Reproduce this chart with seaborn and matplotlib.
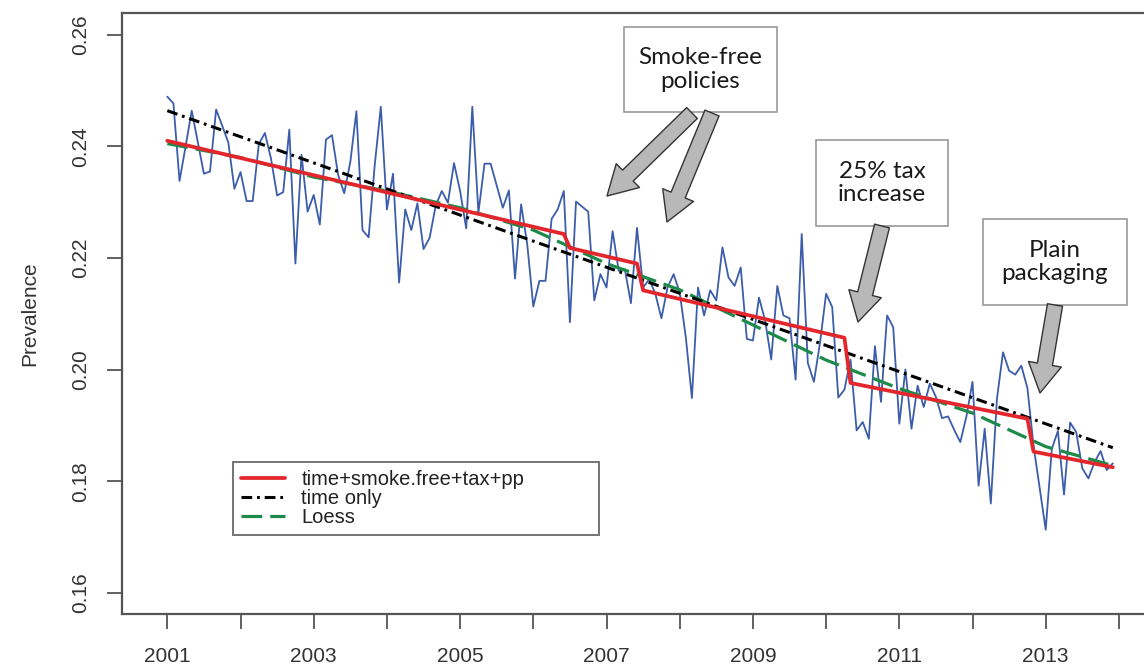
import numpy as np
import pandas as pd
import matplotlib
matplotlib.use("Agg")
import matplotlib.pyplot as plt
import seaborn as sns
from matplotlib.patches import Rectangle, FancyArrowPatch

# ---------------- data ----------------
start_year = 2001
prevalence = [
    0.2489, 0.2477, 0.2338, 0.2400, 0.2464, 0.2407, 0.2351, 0.2355, 0.2466, 0.2437, 0.2407, 0.2324,
    0.2354, 0.2302, 0.2302, 0.2404, 0.2424, 0.2378, 0.2312, 0.2318, 0.2430, 0.2190, 0.2385, 0.2283,
    0.2313, 0.2260, 0.2412, 0.2420, 0.2349, 0.2316, 0.2372, 0.2463, 0.2250, 0.2237, 0.2366, 0.2471,
    0.2287, 0.2351, 0.2156, 0.2287, 0.2250, 0.2298, 0.2216, 0.2236, 0.2294, 0.2320, 0.2299, 0.2370,
    0.2320, 0.2253, 0.2471, 0.2281, 0.2369, 0.2369, 0.2330, 0.2290, 0.2321, 0.2163, 0.2296, 0.2225,
    0.2113, 0.2159, 0.2159, 0.2270, 0.2287, 0.2320, 0.2085, 0.2301, 0.2292, 0.2283, 0.2124, 0.2171,
    0.2147, 0.2248, 0.2177, 0.2180, 0.2119, 0.2254, 0.2147, 0.2162, 0.2136, 0.2092, 0.2147, 0.2171,
    0.2138, 0.2058, 0.1949, 0.2147, 0.2097, 0.2142, 0.2124, 0.2219, 0.2165, 0.2150, 0.2183, 0.2055,
    0.2052, 0.2129, 0.2088, 0.2018, 0.2150, 0.2097, 0.2092, 0.1982, 0.2243, 0.2012, 0.1978, 0.2048,
    0.2136, 0.2112, 0.1950, 0.1964, 0.2018, 0.1891, 0.1906, 0.1876, 0.2042, 0.1942, 0.2097, 0.2076,
    0.1903, 0.2000, 0.1894, 0.1971, 0.1933, 0.1975, 0.1951, 0.1913, 0.1916, 0.1892, 0.1870, 0.1916,
    0.1978, 0.1792, 0.1894, 0.1760, 0.1947, 0.2031, 0.1998, 0.1991, 0.2007, 0.1967, 0.1864, 0.1788,
    0.1713, 0.1858, 0.1890, 0.1776, 0.1905, 0.1888, 0.1823, 0.1805, 0.1834, 0.1854, 0.1820, 0.1832,
]
months = np.arange(len(prevalence))

# interrupted time-series model (time + smoke.free + tax + pp), knots of the fitted line
model_months = [0, 65, 66, 77, 78, 111, 112, 141, 142, 155]
model_vals = [0.2410, 0.2243, 0.2218, 0.2190, 0.2142, 0.2057, 0.1976, 0.1912, 0.1853, 0.1825]

# time-only linear trend (end points)
trend_months = [0, 155]
trend_vals = [0.2464, 0.1860]

# loess smooth
loess_months = [0, 12, 24, 36, 48, 60, 72, 84, 96, 108, 120, 132, 144, 155]
loess_vals = [0.2405, 0.2380, 0.2345, 0.2320, 0.2290, 0.2250, 0.2190, 0.2143, 0.2080, 0.2017,
              0.1966, 0.1922, 0.1862, 0.1828]

legend_labels = ["time+smoke.free+tax+pp", "time only", "Loess"]
year_ticks = list(range(2001, 2015))
ylabel = "Prevalence"

df_obs = pd.DataFrame({"year": start_year + months / 12, "prev": prevalence})
df_model = pd.DataFrame({"year": start_year + np.array(model_months) / 12, "prev": model_vals})
df_trend = pd.DataFrame({"year": start_year + np.array(trend_months) / 12, "prev": trend_vals})
df_loess = pd.DataFrame({"year": start_year + np.array(loess_months) / 12, "prev": loess_vals})

# ---------------- style ----------------
sns.set_theme(style="white")
plt.rcParams["font.family"] = ["Liberation Sans", "DejaVu Sans"]

W, H = 1144, 666
fig = plt.figure(figsize=(W / 100, H / 100), dpi=100)
ax = fig.add_axes([122 / W, (H - 614) / H, (W - 122) / W, 601 / H])

blue = "#3C5DAA"
red = "#E3262B"
green = "#1E8A4A"

sns.lineplot(data=df_obs, x="year", y="prev", ax=ax, color=blue, lw=1.3, zorder=2)
l_loess = sns.lineplot(data=df_loess, x="year", y="prev", ax=ax, color=green, lw=2.3,
                       zorder=3).lines[-1]
l_loess.set_dashes((6.5, 2.5))
l_trend = sns.lineplot(data=df_trend, x="year", y="prev", ax=ax, color="black", lw=2.2,
                       zorder=4).lines[-1]
l_trend.set_dashes((3.5, 1.6, 0.9, 1.6))
l_model = sns.lineplot(data=df_model, x="year", y="prev", ax=ax, color=red, lw=2.7,
                       zorder=5).lines[-1]

ax.set_xlim(2000.381, 2000.381 + 1022 / 73.2)
ax.set_ylim(0.1562, 0.2639)

ax.set_xticks(year_ticks)
ax.set_xticklabels([str(y) if (y - 2001) % 2 == 0 else "" for y in year_ticks])
ax.set_yticks([0.16, 0.18, 0.20, 0.22, 0.24, 0.26])
ax.set_yticklabels(["0.16", "0.18", "0.20", "0.22", "0.24", "0.26"])
for lab in ax.get_yticklabels():
    lab.set_rotation(90)
    lab.set_va("center")
ax.tick_params(axis="both", direction="out", length=10.8, width=1.3, color="#555555",
               labelsize=15, labelcolor="#333333", bottom=True, left=True,
               top=False, right=False)
ax.tick_params(axis="y", pad=12)
ax.tick_params(axis="x", pad=13)
ax.set_xlabel("")
ax.set_ylabel(ylabel, fontsize=15, color="#333333")
ax.yaxis.set_label_coords(-0.090, 0.5)
ax.yaxis.label.set_va("center")

for s in ["left", "bottom", "top"]:
    ax.spines[s].set_color("#555555")
    ax.spines[s].set_linewidth(1.6)
ax.spines["right"].set_visible(False)

leg = ax.legend(handles=[l_model, l_trend, l_loess], labels=legend_labels,
                loc="upper left", bbox_to_anchor=(0.1086, 0.1265, 0.358, 0.1264),
                mode="expand", fontsize=14.5, frameon=True, fancybox=False,
                handlelength=2.2, handletextpad=0.8, labelspacing=0.0,
                borderpad=0.4, borderaxespad=0)
leg.get_frame().set_edgecolor("#444444")
leg.get_frame().set_linewidth(1.3)
for t in leg.get_texts():
    t.set_color("#222222")

# ---------------- annotations ----------------
def fx(x):
    return x / W

def fy(y):
    return (H - y) / H

boxes = [
    ((624, 27, 777, 112), "Smoke-free\npolicies"),
    ((816, 140, 948, 226), "25% tax\nincrease"),
    ((983, 219, 1127, 305), "Plain\npackaging"),
]
for (x0, y0, x1, y1), txt in boxes:
    r = Rectangle((fx(x0), fy(y1)), (x1 - x0) / W, (y1 - y0) / H, transform=fig.transFigure,
                  fc="white", ec="#9a9a9a", lw=1.2, zorder=5)
    fig.add_artist(r)
    fig.text(fx((x0 + x1) / 2), fy((y0 + y1) / 2), txt, ha="center", va="center",
             fontsize=17.5, family=["Lato", "DejaVu Sans"], color="#1a1a1a",
             linespacing=1.15, zorder=6)

arrows = [((692, 113), (607, 196)), ((712, 113), (667, 222)),
          ((882, 226), (858, 322)), ((1055, 305), (1040, 393))]
for (xa, ya), (xb, yb) in arrows:
    a = FancyArrowPatch((fx(xa), fy(ya)), (fx(xb), fy(yb)), transform=fig.transFigure,
                        arrowstyle="simple,head_length=1.05,head_width=1.2,tail_width=0.55",
                        mutation_scale=20, fc="#b8b8b8", ec="#333333", lw=1.0,
                        shrinkA=0, shrinkB=0, zorder=5)
    fig.add_artist(a)

fig.savefig("out.png", dpi=100)
